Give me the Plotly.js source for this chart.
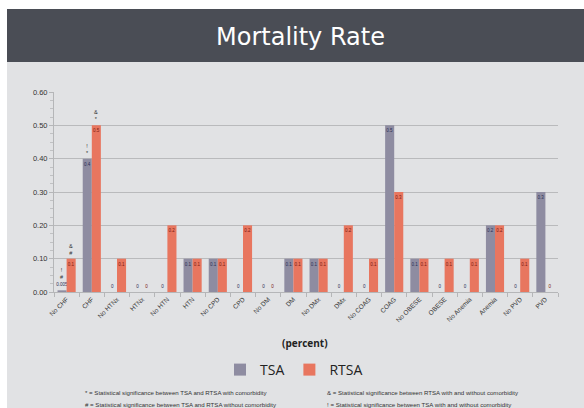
<!DOCTYPE html>
<html>
<head>
<meta charset="utf-8">
<script src="https://cdn.plot.ly/plotly-3.0.1.min.js"></script>
<style>html,body{margin:0;padding:0;background:#fff;}#chart{width:584px;height:408px;}</style>
</head>
<body>
<div id="chart"></div>
<script>
const categories = ["No CHF","CHF","No HTNx","HTNx","No HTN","HTN","No CPD","CPD","No DM","DM","No DMx","DMx","No COAG","COAG","No OBESE","OBESE","No Anemia","Anemia","No PVD","PVD"];
const tsaValues  = [0.005,0.4,0,0,0,0.1,0.1,0,0,0.1,0.1,0,0,0.5,0.1,0,0,0.2,0,0.3];
const rtsaValues = [0.1,0.5,0.1,0,0.2,0.1,0.1,0.2,0,0.1,0.1,0.2,0.1,0.3,0.1,0.1,0.1,0.2,0.1,0];
const yTicks = [0,0.1,0.2,0.3,0.4,0.5,0.6];
// significance markers: category, series (0 = TSA, 1 = RTSA), symbols (top to bottom)
const sigCategories = ["No CHF","No CHF","CHF","CHF"];
const sigSeries     = [0,1,0,1];
const sigSymbols    = ["!<br>#","&<br>#","!<br>*","&<br>*"];
const footnotesLeft  = ["* = Statistical significance between TSA and RTSA with comorbidity","# = Statistical significance between TSA and RTSA without comorbidity"];
const footnotesRight = ["& = Statistical significance between RTSA with and without comorbidity","! = Statistical significance between TSA with and without comorbidity"];

const TSA_COLOR = '#8e8ca1';
const RTSA_COLOR = '#e8765f';
const fmt = v => v === 0 ? '0' : (v < 0.01 ? v.toFixed(3) : v.toFixed(1));
const pos = v => v < 0.05 ? 'outside' : 'inside';

const traces = [
  {type:'bar', name:'TSA', x:categories, y:tsaValues, marker:{color:TSA_COLOR},
   text:tsaValues.map(fmt), textposition:tsaValues.map(pos), insidetextanchor:'end', textangle:0, constraintext:'none',
   textfont:{size:4.5, color:'#2a2f55', family:'Liberation Sans'}, cliponaxis:false, hoverinfo:'x+y'},
  {type:'bar', name:'RTSA', x:categories, y:rtsaValues, marker:{color:RTSA_COLOR},
   text:rtsaValues.map(fmt), textposition:rtsaValues.map(pos), insidetextanchor:'end', textangle:0, constraintext:'none',
   textfont:{size:4.5, color:'#7a1a10', family:'Liberation Sans'}, cliponaxis:false, hoverinfo:'x+y'}
];

// geometry helpers for paper coordinates
const L = 54, R = 26, T = 92, B = 116, W = 584, H = 408;
const pw = W - L - R, ph = H - T - B;
const px = x => (x - L) / pw;
const py = y => (H - B - y) / ph;

const annotations = [];
sigCategories.forEach((c, i) => {
  const idx = categories.indexOf(c);
  const v = sigSeries[i] === 0 ? tsaValues[idx] : rtsaValues[idx];
  annotations.push({x:c, y:v, xref:'x', yref:'y', text:sigSymbols[i], showarrow:false,
    xshift: sigSeries[i] === 0 ? -4.6 : 4.6, yshift: v < 0.05 ? 8 : 1, yanchor:'bottom',
    font:{size:5.5, color:'#333333', family:'Liberation Sans'}});
});
annotations.push({xref:'paper', yref:'paper', x:px(300), y:py(37), text:'Mortality Rate', showarrow:false,
  xanchor:'center', yanchor:'middle', font:{size:24, color:'#ffffff', family:'DejaVu Sans'}});
annotations.push({xref:'paper', yref:'paper', x:px(305), y:py(343), text:'<b>(percent)</b>', showarrow:false,
  xanchor:'center', yanchor:'middle', font:{size:10, color:'#222', family:'Open Sans'}});
footnotesLeft.forEach((t, i) => annotations.push({xref:'paper', yref:'paper', x:px(83), y:py(392 + 12*i), text:t,
  showarrow:false, xanchor:'left', yanchor:'middle', font:{size:6.1, color:'#333', family:'Liberation Sans'}}));
footnotesRight.forEach((t, i) => annotations.push({xref:'paper', yref:'paper', x:px(325), y:py(392 + 12*i), text:t,
  showarrow:false, xanchor:'left', yanchor:'middle', font:{size:6.1, color:'#333', family:'Liberation Sans'}}));

const shapes = [
  {type:'rect', xref:'paper', yref:'paper', x0:px(7), x1:px(584), y0:py(62), y1:py(9), fillcolor:'#4a4d55', line:{width:0}, layer:'below'},
  {type:'rect', xref:'paper', yref:'paper', x0:px(0), x1:px(584), y0:py(9), y1:py(0), fillcolor:'#ffffff', line:{width:0}, layer:'below'},
  {type:'rect', xref:'paper', yref:'paper', x0:px(0), x1:px(7), y0:py(408), y1:py(0), fillcolor:'#ffffff', line:{width:0}, layer:'below'}
];

const layout = {
  width:W, height:H,
  margin:{l:L, r:R, t:T, b:B, pad:0},
  paper_bgcolor:'#e1e2e4', plot_bgcolor:'rgba(0,0,0,0)',
  barmode:'group', bargap:0.28, bargroupgap:0,
  showlegend:true,
  legend:{orientation:'h', x:px(294), xanchor:'center', y:py(370), yanchor:'middle',
    font:{size:14, color:'#222', family:'Open Sans'}, bgcolor:'rgba(0,0,0,0)', itemwidth:30},
  xaxis:{type:'category', tickangle:-45, tickfont:{size:6.5, color:'#333', family:'Liberation Sans'},
    showline:true, linecolor:'#b5b6b8', linewidth:1, ticks:'outside', tickson:'boundaries', ticklen:4, tickcolor:'#b5b6b8',
    showgrid:false, automargin:false, fixedrange:true},
  yaxis:{range:[0,0.6], tickvals:yTicks, tickformat:'.2f', tickfont:{size:7.5, color:'#333', family:'Liberation Sans'},
    showline:true, linecolor:'#b5b6b8', linewidth:1, ticks:'outside', ticklen:4, tickcolor:'#b5b6b8',
    gridcolor:'#b9babc', gridwidth:1, zeroline:false, automargin:false, fixedrange:true,
    minor:{dtick:0.025, ticks:'outside', ticklen:3, tickcolor:'#c0c1c3', showgrid:false}},
  annotations:annotations, shapes:shapes
};

Plotly.newPlot('chart', traces, layout, {displayModeBar:false, staticPlot:true});
</script>
</body>
</html>
